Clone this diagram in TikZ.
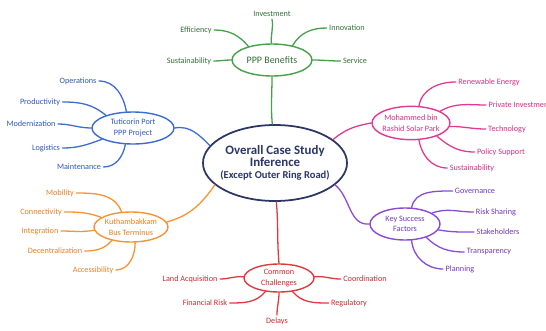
\documentclass[tikz,border=0pt]{standalone}
\usepackage{fontspec}
\setmainfont{Carlito}
\usepackage{xcolor}
\usetikzlibrary{shapes.geometric}

\definecolor{navy}{HTML}{2B3664}
\definecolor{grn}{HTML}{45A04A}
\definecolor{grntxt}{HTML}{336E38}
\definecolor{blu}{HTML}{3D6CD0}
\definecolor{blutxt}{HTML}{2F58B5}
\definecolor{mag}{HTML}{E03A93}
\definecolor{magtxt}{HTML}{D22F86}
\definecolor{orn}{HTML}{F39436}
\definecolor{orntxt}{HTML}{E77F22}
\definecolor{pur}{HTML}{8B4BD3}
\definecolor{purtxt}{HTML}{7038BC}
\definecolor{rd}{HTML}{DC3A3E}
\definecolor{rdtxt}{HTML}{C92B30}

\begin{document}
\begin{tikzpicture}[x=0.03cm,y=0.03cm,
    hub/.style={draw,ellipse,line width=1.2pt,inner xsep=-1pt,inner ysep=0pt,
      align=center,font=\fontsize{7}{9}\selectfont},
    leaf/.style={font=\fontsize{7}{8}\selectfont,inner sep=2pt},
    branch/.style={line width=1.1pt,line cap=round}]
    \clip (0,0) rectangle (546,-331);

    % the hub in the middle
    \node[hub,draw=navy,text=navy,line width=1.5pt,minimum width=4.32cm,
      minimum height=2.28cm,inner xsep=-4pt] (core) at (275,-163)
      {\fontsize{11}{12}\selectfont\bfseries Overall Case Study\\
       \fontsize{11}{12}\selectfont\bfseries Inference\\[1pt]
       \fontsize{9}{11}\selectfont\bfseries (Except Outer Ring Road)};

    % PPP benefits (top)
    \node[hub,draw=grn,text=grntxt,minimum width=2.4cm,minimum height=0.96cm,
      font=\fontsize{8.5}{10}\selectfont] (ppp) at (272,-60) {PPP Benefits};
    \node[leaf,text=grntxt] (inv) at (272,-14) {Investment};
    \node[leaf,text=grntxt] (eff) at (196,-30) {Efficiency};
    \node[leaf,text=grntxt] (inn) at (347,-28) {Innovation};
    \node[leaf,text=grntxt] (sus1) at (189,-61) {Sustainability};
    \node[leaf,text=grntxt] (svc) at (355,-61) {Service};
    \draw[branch,grn] (inv.south) to[out=-80,in=95] (ppp.92);
    \draw[branch,grn] (eff.east) to[out=0,in=130] (ppp.150);
    \draw[branch,grn] (inn.west) to[out=180,in=60] (ppp.35);
    \draw[branch,grn] (sus1.east) to[out=0,in=180] (ppp.west);
    \draw[branch,grn] (ppp.east) to[out=0,in=180] (svc.west);
    \draw[branch,grn] (ppp.south) to[out=-90,in=95] (core.94);

    % Tuticorin port (left)
    \node[hub,draw=blu,text=blutxt,minimum width=2.46cm,minimum height=0.96cm]
      (tut) at (133,-128) {Tuticorin Port\\PPP Project};
    \node[leaf,text=blutxt] (ops) at (78,-81) {Operations};
    \node[leaf,text=blutxt] (prd) at (40,-102) {Productivity};
    \node[leaf,text=blutxt] (mdn) at (31,-124) {Modernization};
    \node[leaf,text=blutxt] (lgs) at (46,-148) {Logistics};
    \node[leaf,text=blutxt] (mnt) at (79,-167) {Maintenance};
    \draw[branch,blu] (ops.east) to[out=0,in=100] (tut.112);
    \draw[branch,blu] (prd.east) to[out=0,in=140] (tut.155);
    \draw[branch,blu] (mdn.east) to[out=0,in=180] (tut.180);
    \draw[branch,blu] (lgs.east) to[out=0,in=-160] (tut.200);
    \draw[branch,blu] (mnt.east) to[out=0,in=-100] (tut.245);
    \draw[branch,blu] (tut.east) to[out=10,in=135] (core.165);

    % solar park (upper right)
    \node[hub,draw=mag,text=magtxt,minimum width=2.34cm,minimum height=1cm,
      inner xsep=-2pt] (sol) at (411,-123) {Mohammed bin\\Rashid Solar Park};
    \node[leaf,text=magtxt] (ren) at (489,-82) {Renewable Energy};
    \node[leaf,text=magtxt,anchor=west] (piv) at (486,-105) {Private Investment};
    \node[leaf,text=magtxt] (tec) at (507,-129) {Technology};
    \node[leaf,text=magtxt] (pol) at (501,-152) {Policy Support};
    \node[leaf,text=magtxt] (sus2) at (472,-168) {Sustainability};
    \draw[branch,mag] (ren.west) to[out=180,in=80] (sol.65);
    \draw[branch,mag] (piv.west) to[out=180,in=30] (sol.22);
    \draw[branch,mag] (tec.west) to[out=180,in=0] (sol.355);
    \draw[branch,mag] (pol.west) to[out=180,in=-40] (sol.333);
    \draw[branch,mag] (sus2.west) to[out=180,in=-80] (sol.295);
    \draw[branch,mag] (core.22) to[out=40,in=190] (sol.west);

    % bus terminus (lower left)
    \node[hub,draw=orn,text=orntxt,minimum width=2.22cm,minimum height=0.9cm]
      (kut) at (131,-227) {Kuthambakkam\\Bus Terminus};
    \node[leaf,text=orntxt] (mob) at (60,-193) {Mobility};
    \node[leaf,text=orntxt] (cnn) at (41,-212) {Connectivity};
    \node[leaf,text=orntxt] (itg) at (40,-231) {Integration};
    \node[leaf,text=orntxt] (dcn) at (55,-251) {Decentralization};
    \node[leaf,text=orntxt] (acs) at (93,-270) {Accessibility};
    \draw[branch,orn] (mob.east) to[out=0,in=110] (kut.122);
    \draw[branch,orn] (cnn.east) to[out=0,in=160] (kut.162);
    \draw[branch,orn] (itg.east) to[out=0,in=190] (kut.185);
    \draw[branch,orn] (dcn.east) to[out=0,in=-130] (kut.215);
    \draw[branch,orn] (acs.east) to[out=0,in=-90] (kut.285);
    \draw[branch,orn] (kut.8) to[out=15,in=-125] (core.200);

    % key success factors (lower right)
    \node[hub,draw=pur,text=purtxt,minimum width=2.1cm,minimum height=0.96cm]
      (ksf) at (405,-224) {Key Success\\Factors};
    \node[leaf,text=purtxt] (gov) at (475,-191) {Governance};
    \node[leaf,text=purtxt] (rsh) at (496,-212) {Risk Sharing};
    \node[leaf,text=purtxt] (stk) at (498,-232) {Stakeholders};
    \node[leaf,text=purtxt] (trp) at (489,-252) {Transparency};
    \node[leaf,text=purtxt] (pln) at (460,-269) {Planning};
    \draw[branch,pur] (gov.west) to[out=180,in=80] (ksf.68);
    \draw[branch,pur] (rsh.west) to[out=180,in=20] (ksf.22);
    \draw[branch,pur] (stk.west) to[out=180,in=-10] (ksf.350);
    \draw[branch,pur] (trp.west) to[out=180,in=-45] (ksf.328);
    \draw[branch,pur] (pln.west) to[out=180,in=-85] (ksf.292);
    \draw[branch,pur] (core.340) to[out=-40,in=185] (ksf.west);

    % common challenges (bottom)
    \node[hub,draw=rd,text=rdtxt,minimum width=2.1cm,minimum height=0.84cm]
      (chl) at (279,-278) {Common\\Challenges};
    \node[leaf,text=rdtxt] (lnd) at (190,-279) {Land Acquisition};
    \node[leaf,text=rdtxt] (crd) at (365,-279) {Coordination};
    \node[leaf,text=rdtxt] (fin) at (205,-303) {Financial Risk};
    \node[leaf,text=rdtxt] (reg) at (349,-303) {Regulatory};
    \node[leaf,text=rdtxt] (dly) at (277,-321) {Delays};
    \draw[branch,rd] (lnd.east) to[out=0,in=175] (chl.178);
    \draw[branch,rd] (chl.2) to[out=5,in=180] (crd.west);
    \draw[branch,rd] (fin.east) to[out=0,in=-130] (chl.225);
    \draw[branch,rd] (reg.west) to[out=180,in=-50] (chl.315);
    \draw[branch,rd] (dly.north) to[out=90,in=-90] (chl.south);
    \draw[branch,rd] (core.272) to[out=-85,in=95] (chl.north);
\end{tikzpicture}
\end{document}
